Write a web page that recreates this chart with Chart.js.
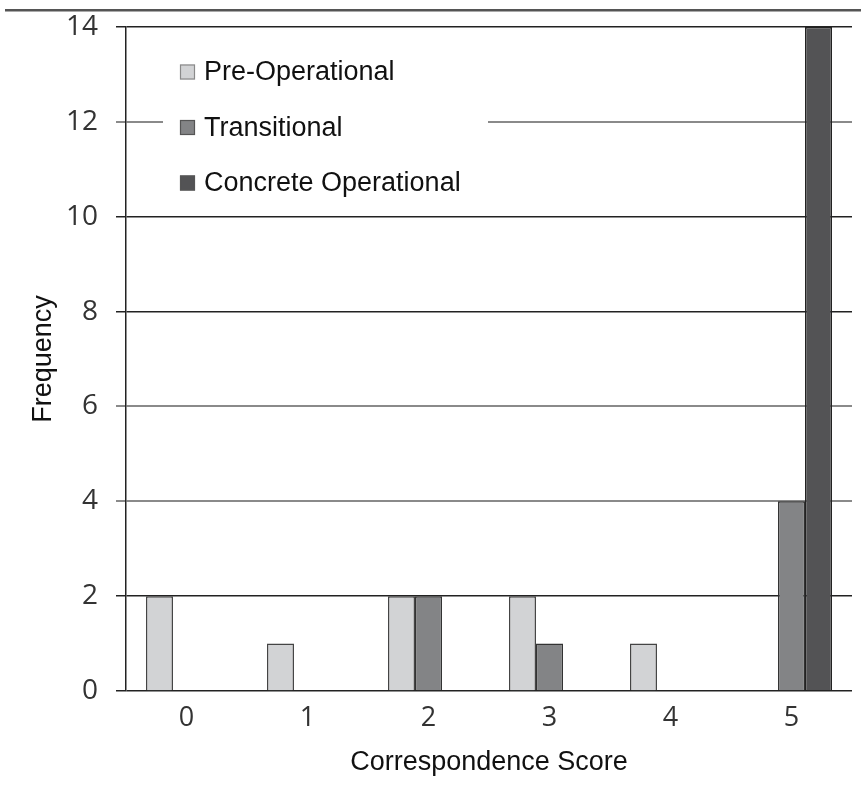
<!DOCTYPE html>
<html><head><meta charset="utf-8">
<script src="https://cdn.jsdelivr.net/npm/chart.js@4/dist/chart.umd.min.js"></script>
<style>html,body{margin:0;padding:0;background:#fff}canvas{display:block}</style>
</head><body>
<canvas id="c" width="861" height="811"></canvas>
<script>
const categories = ['0', '1', '2', '3', '4', '5'];
const preOperational = [2, 1, 2, 2, 1, 0];
const transitional = [0, 0, 2, 1, 0, 4];
const concreteOperational = [0, 0, 0, 0, 0, 14];
const seriesNames = ['Pre-Operational', 'Transitional', 'Concrete Operational'];
const seriesColors = ['#d2d3d5', '#838486', '#535355'];
const grayGridValues = [12, 6, 4];

const topRule = {
  id: 'topRule',
  beforeDraw(chart) {
    const ctx = chart.ctx;
    ctx.save();
    ctx.fillStyle = '#fff';
    ctx.fillRect(0, 0, chart.width, chart.height);
    ctx.fillStyle = '#555';
    ctx.fillRect(5, 9, chart.width - 5, 2.5);
    ctx.restore();
  }
};

const insideLegend = {
  id: 'insideLegend',
  afterDraw(chart) {
    const ctx = chart.ctx;
    const area = chart.chartArea;
    const y12 = chart.scales.y.getPixelForValue(12);
    ctx.save();
    ctx.fillStyle = '#fff';
    ctx.fillRect(area.left + 37, y12 - 6, 325, 12);
    ctx.font = '27px "Liberation Sans", Arial, sans-serif';
    ctx.textBaseline = 'middle';
    chart.data.datasets.forEach((ds, i) => {
      const cy = 72 + i * 55.5;
      const bx = area.left + 54;
      ctx.fillStyle = ds.backgroundColor;
      ctx.fillRect(bx, cy - 7.5, 15, 15);
      ctx.strokeStyle = i === 0 ? '#8a8a8a' : '#555';
      ctx.lineWidth = 1.2;
      ctx.strokeRect(bx + 0.5, cy - 7, 14, 14);
      ctx.fillStyle = '#111';
      ctx.fillText(ds.label, bx + 24, cy + 1);
    });
    ctx.restore();
  }
};

new Chart(document.getElementById('c'), {
  type: 'bar',
  data: {
    labels: categories,
    datasets: [
      { label: seriesNames[0], data: preOperational, backgroundColor: seriesColors[0], borderColor: '#444', borderWidth: 1.5 },
      { label: seriesNames[1], data: transitional, backgroundColor: seriesColors[1], borderColor: '#333', borderWidth: 1.5 },
      { label: seriesNames[2], data: concreteOperational, backgroundColor: seriesColors[2], borderColor: '#222', borderWidth: 1.5 }
    ]
  },
  options: {
    responsive: false,
    animation: false,
    devicePixelRatio: 1,
    layout: { padding: { top: 27, right: 9, left: 0, bottom: 0 } },
    plugins: { legend: { display: false }, tooltip: { enabled: false } },
    datasets: { bar: { categoryPercentage: 0.67, barPercentage: 1 } },
    scales: {
      x: {
        grid: { display: false, drawTicks: false },
        border: { display: false },
        ticks: { font: { family: 'Open Sans', size: 27 }, color: '#333', padding: 11 },
        title: { display: true, text: 'Correspondence Score', font: { family: 'Liberation Sans', size: 27 }, color: '#111', padding: { top: 0, bottom: 32 } },
        afterFit(s) { s.height = 120; s.paddingLeft = 0; s.paddingRight = 0; }
      },
      y: {
        min: 0, max: 14,
        ticks: { stepSize: 2, font: { family: 'Open Sans', size: 28 }, color: '#333', padding: 18 },
        grid: {
          color: c => grayGridValues.includes(c.tick && c.tick.value) ? '#8a8a8a' : '#222',
          lineWidth: c => grayGridValues.includes(c.tick && c.tick.value) ? 2 : 1.5,
          tickLength: 10, drawTicks: true
        },
        border: { display: true, color: '#222', width: 1.5 },
        title: { display: true, text: 'Frequency', font: { family: 'Liberation Sans', size: 27 }, color: '#111', padding: { top: 27, bottom: 0 } },
        afterFit(s) { s.width = 126; s.paddingTop = 0; s.paddingBottom = 0; }
      }
    }
  },
  plugins: [topRule, insideLegend]
});
</script>
</body></html>
